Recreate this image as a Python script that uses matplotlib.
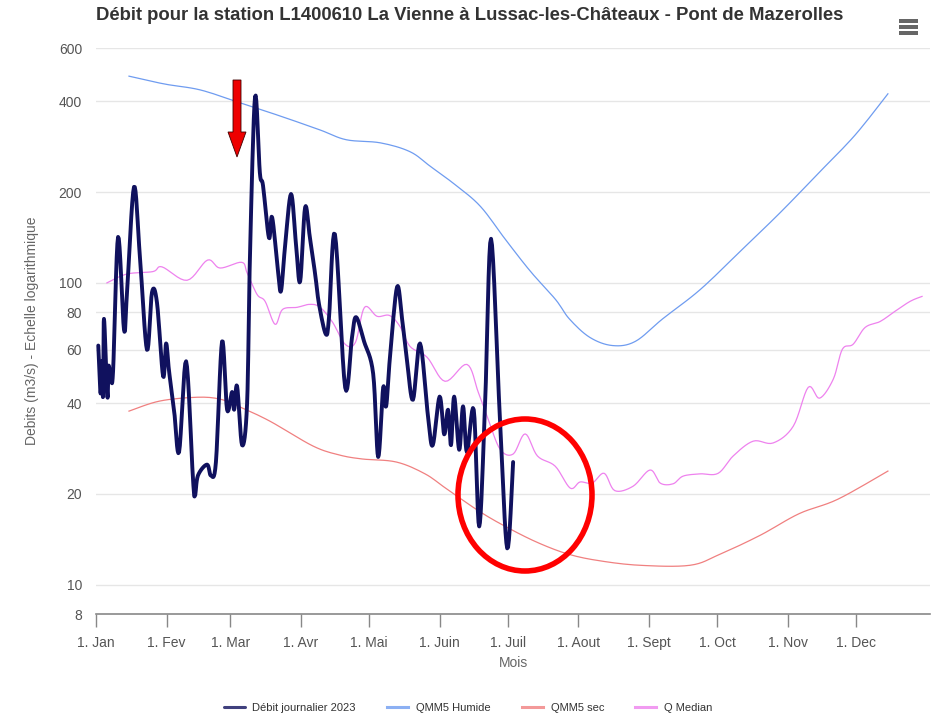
# -*- coding: utf-8 -*-
# Débit journalier 2023 de la Vienne à Lussac-les-Châteaux, avec QMM5 et médiane

import matplotlib
matplotlib.use("Agg")
import numpy as np
import matplotlib.pyplot as plt
from matplotlib import font_manager
from matplotlib.patches import Polygon, Ellipse, Rectangle
from matplotlib.ticker import FixedLocator, NullLocator

# --- données (jour de l'année, 0 = 1er janvier ; débits en m3/s) ---
jours_2023 = [1, 2, 2.6, 3.1, 3.5, 5, 5.5, 6.5, 7.5, 9.7, 12.3, 13.6, 16.7, 19.3, 22.4,
              24.6, 26.8, 29.5, 30.8, 32.1, 34.3, 36.5, 39.6, 42.6, 43.5, 44.8, 48.8,
              50.5, 52.7, 55.4, 57.6, 59.8, 60.7, 62, 64.2, 66.4, 67.7, 69.9, 72, 73.4,
              76, 77.4, 80, 81.3, 83, 85.7, 87.9, 89.7, 91.9, 94, 96.3, 98, 101, 102.4,
              105, 109.5, 112.5, 114.3, 117.8, 121.8, 124, 126.2, 127.5, 129.2, 132.3,
              134.5, 136.7, 139.3, 142.4, 146, 148, 151, 153, 154.7, 156, 157.4, 159.6,
              161.3, 163, 166, 168.4, 171, 173.6, 177.5, 180.7, 183.3]
debit_2023 = [62, 43, 55, 42, 76, 42, 53, 49, 51, 142, 70, 92, 208, 122, 60,
              93, 86, 49, 63, 51, 38, 27.5, 55, 22.5, 19.7, 23, 25,
              23, 25.5, 64, 38, 43.5, 38, 45.5, 29, 40, 127, 414, 232, 210,
              141, 165, 109, 94, 130, 197, 134, 101, 178, 141, 107, 85, 67.6, 77,
              145, 45, 66, 77, 64, 50, 26.5, 45, 39, 57, 97,
              76, 55, 41, 63, 35.5, 29, 42, 31.5, 38, 29, 42, 28,
              39, 27.5, 38, 15.6, 40, 140, 35.5, 13.2, 25.5]

jours_humide = [14.5, 30, 45.7, 62, 81, 98.5, 110, 125, 138, 147, 158, 169, 180, 191,
                202, 208, 217, 227, 237, 249, 265.5, 283, 300.7, 318, 333.6, 348]
qmm5_humide = [484, 456, 436, 398, 357, 321, 298, 291, 272, 243, 211, 179, 139, 109,
               88, 76, 66, 62, 64, 76, 95, 127, 171, 233, 309, 423]

jours_sec = [14.5, 28, 44.4, 54.5, 63.3, 76.5, 95.4, 107, 117, 132, 144.6, 154, 169,
             182, 195, 208, 221.5, 239, 261, 274, 292, 309, 326, 348]
qmm5_sec = [37.6, 40.6, 41.8, 41.2, 38.8, 34.8, 28.8, 26.9, 26.1, 25.5, 23.3, 20.8, 17.4,
            15.3, 13.7, 12.6, 12.0, 11.6, 11.6, 12.6, 14.6, 17.2, 19.2, 23.8]

jours_median = [4.8, 13.6, 25, 29, 40, 49, 54.5, 64, 66.4, 70.8, 74.3, 78.7, 82, 88.4,
                94, 98.5, 104, 109.5, 114, 118, 123.5, 129, 133.6, 138, 145.5, 153.4,
                163, 168, 172.3, 177.6, 183.3, 188.6, 194, 201.8, 208.4, 212.7, 218,
                223.3, 228, 236, 243.5, 248, 253.6, 258, 265.5, 273.4, 280, 288.8,
                297.6, 306.4, 313, 318, 324, 328, 332.7, 338, 344.6, 351, 357.8, 363]
q_median = [100, 107, 109, 113, 102, 119, 112, 117, 108, 91.5, 86.9, 72.9, 81.7, 83,
            84.9, 83, 74, 62.6, 63.5, 83, 77.5, 78, 71.7, 61.6, 56.7, 47.2,
            53.7, 43.4, 35.4, 28.1, 27.1, 31.6, 26.7, 24.7, 20.9, 21.9, 21.7,
            23.4, 20.5, 21.2, 24, 21.7, 21.6, 22.9, 23.3, 23.4, 26.7, 29.9,
            29.5, 33.5, 45.1, 41.5, 48, 60.3, 62.6, 71.2, 74.5, 80.4, 86.9, 90.2]

mois_pos = [0, 31, 59, 90, 120, 151, 181, 212, 243, 273, 304, 334]
mois_labels = ["1. Jan", "1. Fev", "1. Mar", "1. Avr", "1. Mai", "1. Juin", "1. Juil",
               "1. Aout", "1. Sept", "1. Oct", "1. Nov", "1. Dec"]
y_ticks = [8, 10, 20, 40, 60, 80, 100, 200, 400, 600]

titre = "Débit pour la station L1400610 La Vienne à Lussac-les-Châteaux - Pont de Mazerolles"

# police étroite si disponible
noms = {f.name for f in font_manager.fontManager.ttflist}
police = "Liberation Sans Narrow" if "Liberation Sans Narrow" in noms else "Liberation Sans"
plt.rcParams["font.family"] = [police, "DejaVu Sans"]


def lisser(x, y, n=8):
    # tracé type spline (Catmull-Rom) en échelle log, comme le graphique d'origine
    x = np.asarray(x, float)
    ly = np.log10(np.asarray(y, float))
    xs, ys = [x[0]], [ly[0]]
    for i in range(len(x) - 1):
        x0, x3 = x[max(i - 1, 0)], x[min(i + 2, len(x) - 1)]
        y0, y3 = ly[max(i - 1, 0)], ly[min(i + 2, len(x) - 1)]
        x1, x2, y1, y2 = x[i], x[i + 1], ly[i], ly[i + 1]
        mx1, my1 = (x2 - x0) / 2, (y2 - y0) / 2
        mx2, my2 = (x3 - x1) / 2, (y3 - y1) / 2
        t = np.linspace(0, 1, n + 1)[1:]
        h00, h10 = 2 * t**3 - 3 * t**2 + 1, t**3 - 2 * t**2 + t
        h01, h11 = -2 * t**3 + 3 * t**2, t**3 - t**2
        xs.extend(h00 * x1 + h10 * mx1 + h01 * x2 + h11 * mx2)
        ys.extend(h00 * y1 + h10 * my1 + h01 * y2 + h11 * my2)
    return np.array(xs), 10 ** np.array(ys)


W, H = 932, 724
fig = plt.figure(figsize=(W / 100, H / 100), dpi=100)
ax = fig.add_axes([96 / W, 1 - 614 / H, (930 - 96) / W, (614 - 48) / H])


def px(x, y):
    return (x / W, 1 - y / H)


ax.set_yscale("log")
ax.set_xlim(0, 366.5)
ax.set_ylim(8, 600)

c_navy, c_bleu, c_rouge, c_violet = "#10115e", "#6f9cf0", "#f08080", "#ee82ee"

ax.plot(*lisser(jours_humide, qmm5_humide), color=c_bleu, lw=0.9, label="QMM5 Humide", zorder=3)
ax.plot(*lisser(jours_sec, qmm5_sec), color=c_rouge, lw=0.9, label="QMM5 sec", zorder=3)
ax.plot(*lisser(jours_median, q_median), color=c_violet, lw=0.9, label="Q Median", zorder=3)
ax.plot(*lisser(jours_2023, debit_2023), color=c_navy, lw=2.8, solid_joinstyle="round",
        solid_capstyle="round", label="Débit journalier 2023", zorder=4)

# axes
ax.yaxis.set_major_locator(FixedLocator(y_ticks))
ax.yaxis.set_minor_locator(NullLocator())
ax.set_yticklabels([str(v) for v in y_ticks])
ax.xaxis.set_major_locator(FixedLocator(mois_pos))
ax.xaxis.set_minor_locator(NullLocator())
ax.set_xticklabels(mois_labels)
for v in y_ticks[1:]:
    ax.axhline(v, color="#e6e6e6", lw=1, zorder=1)

for s in ["top", "right", "left"]:
    ax.spines[s].set_visible(False)
ax.spines["bottom"].set_color("#888888")
ax.spines["bottom"].set_linewidth(1.2)
ax.tick_params(axis="x", length=9, width=1, color="#888888", labelsize=10,
               labelcolor="#555555", pad=7)
ax.tick_params(axis="y", length=0, labelsize=10, labelcolor="#555555", pad=10)

ax.set_xlabel("Mois", fontsize=10, color="#666666", labelpad=4)
ax.set_ylabel("Debits (m3/s) - Echelle logarithmique", fontsize=10, color="#666666",
              labelpad=14)

fig.text(470 / W, 1 - 16 / H, titre, ha="center", va="center", fontsize=13.3,
         fontweight="bold", color="#333333")

# menu
for yb in (21, 27, 33):
    fig.patches.append(Rectangle(px(899, yb + 1.6), 19 / W, 3.2 / H,
                                 transform=fig.transFigure, facecolor="#666666",
                                 edgecolor="none"))

# légende
h, l = ax.get_legend_handles_labels()
ordre = [3, 0, 1, 2]
leg = fig.legend([h[i] for i in ordre], [l[i] for i in ordre], loc="center",
                 bbox_to_anchor=(468 / W, 1 - 708 / H), ncol=4, frameon=False,
                 fontsize=8, handlelength=1.9, handletextpad=0.7, columnspacing=2.8)
for t in leg.get_texts():
    t.set_color("#333333")
for ln in leg.get_lines():
    ln.set_linewidth(2.2)
    ln.set_alpha(0.8)

# flèche rouge et cercle rouge
fleche = [px(233, 80), px(241, 80), px(241, 132), px(246, 132), px(237, 157),
          px(228, 132), px(233, 132)]
fig.patches.append(Polygon(fleche, closed=True, transform=fig.transFigure,
                           facecolor="#ee0000", edgecolor="#400000", lw=0.6, zorder=10))
fig.patches.append(Ellipse(px(525, 495), 134 / W, 152 / H, transform=fig.transFigure,
                           fill=False, edgecolor="#ff0000", lw=4, zorder=10))

fig.savefig("out.png", dpi=100)
